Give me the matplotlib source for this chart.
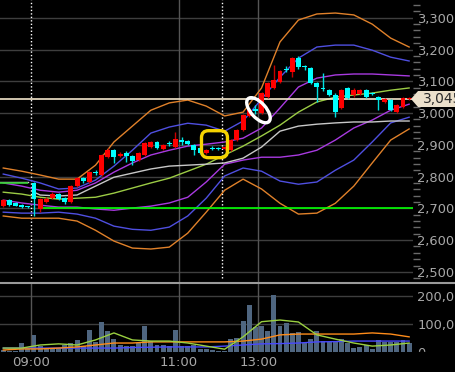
import matplotlib.pyplot as plt
from matplotlib import transforms as mtransforms
from matplotlib.patches import Ellipse, FancyBboxPatch, Polygon, Rectangle
from matplotlib.lines import Line2D
from matplotlib.ticker import MultipleLocator

# 5-minute candles, index 0 = 09:00 (negative = previous day)
idx = list(range(-5, 62))
opens = [2709, 2725, 2718, 2712, 2705, 2781, 2697, 2720, 2734, 2744,
         2734, 2719, 2769, 2795, 2784, 2816, 2806, 2862, 2884, 2866,
         2875, 2866, 2853, 2869, 2894, 2909, 2888, 2906, 2894, 2916,
         2912, 2900, 2890, 2875, 2891, 2890, 2887, 2884, 2916, 2947,
         2990, 3012, 3000, 3050, 3078, 3097, 3140, 3128, 3172, 3147,
         3141, 3094, 3078, 3072, 3056, 3016, 3078, 3056, 3060, 3072,
         3062, 3050, 3035, 3041, 3003, 3019, 3044]
highs = [2730, 2728, 2721, 2715, 2708, 2784, 2734, 2737, 2750, 2747,
         2737, 2772, 2800, 2800, 2819, 2822, 2872, 2890, 2888, 2878,
         2881, 2869, 2878, 2909, 2912, 2912, 2903, 2912, 2941, 2925,
         2916, 2903, 2894, 2887, 2897, 2894, 2897, 2919, 2950, 2997,
         3016, 3025, 3065, 3097, 3150, 3137, 3147, 3175, 3181, 3150,
         3144, 3097, 3125, 3075, 3062, 3075, 3081, 3078, 3075, 3075,
         3066, 3053, 3047, 3044, 3028, 3050, 3050]
lows = [2705, 2706, 2706, 2700, 2701, 2675, 2690, 2716, 2731, 2725,
        2715, 2716, 2766, 2780, 2781, 2806, 2803, 2859, 2844, 2862,
        2847, 2838, 2850, 2866, 2891, 2887, 2884, 2897, 2890, 2900,
        2900, 2869, 2872, 2872, 2884, 2884, 2884, 2881, 2912, 2944,
        2987, 2997, 2997, 3047, 3075, 3094, 3128, 3112, 3140, 3137,
        3090, 3034, 3069, 3053, 2987, 3012, 3044, 3050, 3056, 3047,
        3056, 3009, 3031, 3006, 3000, 3016, 3040]
closes = [2725, 2710, 2709, 2703, 2704, 2728, 2731, 2728, 2744, 2728,
          2719, 2769, 2797, 2787, 2816, 2810, 2869, 2884, 2862, 2872,
          2865, 2850, 2875, 2906, 2909, 2891, 2900, 2903, 2919, 2910,
          2903, 2884, 2875, 2884, 2888, 2887, 2894, 2916, 2947, 2994,
          3010, 3008, 3062, 3094, 3103, 3134, 3137, 3172, 3144, 3144,
          3094, 3081, 3075, 3056, 3003, 3072, 3047, 3072, 3072, 3050,
          3059, 3041, 3044, 3009, 3025, 3047, 3045]
volume_k = [8, 5, 5, 32, 10, 62, 20, 15, 15, 15,
            26, 32, 44, 20, 79, 35, 108, 76, 46, 26,
            20, 20, 32, 94, 40, 26, 24, 20, 77, 20,
            22, 26, 12, 12, 8, 3, 3, 46, 50, 111,
            168, 90, 92, 76, 203, 94, 105, 67, 70, 32,
            46, 76, 40, 35, 40, 46, 32, 14, 17, 26,
            12, 43, 37, 37, 37, 43, 32]

# bollinger bands and moving averages, read every 3 candles
band_idx = list(range(-5, 62, 3))
upper3 = [2827, 2817, 2805, 2792, 2792, 2836, 2909, 2959, 3009, 3032, 3041, 3022,
          2991, 3003, 3079, 3224, 3293, 3312, 3315, 3309, 3280, 3236, 3208]
upper2 = [2808, 2795, 2780, 2761, 2764, 2789, 2833, 2883, 2937, 2956, 2968, 2962,
          2943, 2975, 3044, 3113, 3173, 3208, 3214, 3214, 3198, 3176, 3164]
upper1 = [2780, 2770, 2757, 2751, 2757, 2780, 2814, 2843, 2868, 2883, 2896, 2902,
          2909, 2921, 2953, 3016, 3082, 3110, 3120, 3123, 3123, 3120, 3117]
ma_mid = [2751, 2745, 2735, 2729, 2732, 2735, 2748, 2764, 2780, 2795, 2817, 2839,
          2868, 2896, 2928, 2962, 3003, 3035, 3050, 3057, 3063, 3072, 3079]
lower1 = [2726, 2717, 2710, 2704, 2704, 2698, 2694, 2701, 2707, 2717, 2735, 2783,
          2839, 2852, 2861, 2861, 2868, 2883, 2915, 2953, 2978, 3009, 3028]
lower2 = [2688, 2685, 2685, 2688, 2682, 2669, 2644, 2634, 2631, 2641, 2676, 2732,
          2802, 2827, 2817, 2786, 2776, 2783, 2820, 2852, 2909, 2969, 2987]
lower3 = [2676, 2669, 2669, 2669, 2660, 2631, 2597, 2575, 2572, 2578, 2622, 2688,
          2757, 2792, 2761, 2716, 2682, 2685, 2716, 2770, 2843, 2915, 2950]

vwap_prev_idx = [-6, -1]
vwap_prev = [2783, 2783]
vwap_idx = [0, 1, 4, 7, 10, 13, 16, 19, 22, 25, 28, 31, 34, 37, 40, 43, 46, 49, 52, 55, 58, 61]
vwap = [2751, 2742, 2739, 2742, 2770, 2798, 2811, 2824, 2833, 2836, 2839, 2843,
        2858, 2893, 2943, 2959, 2965, 2969, 2972, 2972, 2975, 2975]

prev_level = 2781
ref_level = 2700
last_price = 3045

vol_ma_short = [14, 14, 25, 29, 25, 43, 68, 43, 39, 39, 32, 21, 10, 54, 108, 114,
                107, 61, 46, 32, 21, 25, 32]
vol_ma_mid = [7, 11, 11, 14, 18, 25, 32, 32, 36, 36, 36, 36, 36, 39, 46, 61,
              64, 64, 64, 64, 68, 64, 54]
vol_ma_long = [14, 14, 14, 14, 14, 14, 14, 16, 17, 18, 18, 18, 21, 25, 29, 30,
               32, 36, 37, 39, 39, 39, 39]

price_ticks = list(range(2500, 3400, 100))
time_pos = [-0.5, 23.5, 36.5]
time_labels = ['09:00', '11:00', '13:00']
session_breaks = [-0.5, 30.5]

W, H = 455, 372
grid_col = '#3e3e3e'
lab_col = '#a8a8a8'

fig = plt.figure(figsize=(W / 100, H / 100), dpi=100, facecolor='black')
axp = fig.add_axes([0, (H - 283) / H, 413 / W, 283 / H], facecolor='black')
axv = fig.add_axes([0, (H - 352) / H, 413 / W, 69 / H], facecolor='black')
for ax in (axp, axv):
    for s in ax.spines.values():
        s.set_visible(False)
    ax.set_xlim(-5.53, 61.63)

# price grid
for t in price_ticks:
    axp.axhline(t, color=grid_col, lw=1, zorder=0)
for t in time_pos[1:]:
    axp.axvline(t, color='#555555', lw=1, zorder=0)
for t in session_breaks:
    axp.axvline(t, ymin=0.018, color='white', lw=1, ls=(0, (1, 1.5)), zorder=0)

# bands
band_styles = [(upper3, '#e0812a'), (lower3, '#e0812a'),
               (upper2, '#4f4fe0'), (lower2, '#4f4fe0'),
               (upper1, '#a83ae0'), (lower1, '#a83ae0'),
               (ma_mid, '#9ccc45')]
for vals, col in band_styles:
    axp.plot(band_idx, vals, color=col, lw=1, zorder=2)
axp.plot(vwap_prev_idx, vwap_prev, color='#c8c8c8', lw=1, zorder=2)
axp.plot(vwap_idx, vwap, color='#c8c8c8', lw=1, zorder=2)
axp.hlines(prev_level, -6, -1, color='#2ecc2e', lw=1.2, zorder=2)
axp.hlines(ref_level, 1.5, 62, color='#00ff00', lw=1.2, zorder=2)
axp.axhline(last_price, color='#f3e6cc', lw=1.2, zorder=2)

# candles
for i, o, h, l, c in zip(idx, opens, highs, lows, closes):
    up = c > o
    body = '#ff0000' if up else '#00ffff'
    wick = '#c80000' if up else '#00e0e0'
    axp.vlines(i, l, h, color=wick, lw=1, zorder=3)
    axp.bar(i, max(abs(c - o), 3), bottom=min(o, c), width=0.8, color=body, zorder=4)

axp.set_ylim(2465, 3356)
axp.set_xticks([])
axp.yaxis.tick_right()
axp.set_yticks(price_ticks)
axp.set_yticklabels([f'{t:,}' for t in price_ticks])
axp.yaxis.set_minor_locator(MultipleLocator(20))
axp.tick_params(axis='y', which='major', length=0, pad=3, labelsize=9.4, labelcolor=lab_col)
axp.tick_params(axis='y', which='minor', length=5, width=1, color='#6a6a6a')

# annotations
ring = Ellipse((0, 0), 31, 15, angle=-48, fill=False, ec='white', lw=2.4,
               transform=mtransforms.IdentityTransform()
               + mtransforms.ScaledTranslation(36.5, 3009, axp.transData),
               zorder=6, clip_on=False)
axp.add_patch(ring)
box = FancyBboxPatch((-13, -13.5), 26, 27, boxstyle='round,pad=0,rounding_size=7',
                     fill=False, ec='#f5d300', lw=2.4,
                     transform=mtransforms.IdentityTransform()
                     + mtransforms.ScaledTranslation(29.35, 2902, axp.transData),
                     zorder=6, clip_on=False)
axp.add_patch(box)

# volume
for v in (100, 200):
    axv.axhline(v, color=grid_col, lw=1, zorder=0)
for t in time_pos:
    axv.axvline(t, color='#555555', lw=1, zorder=0)
axv.bar(idx, volume_k, width=0.8, color='#4f6680', zorder=2)
axv.plot(band_idx, vol_ma_long, color='#4848ff', lw=1, zorder=3)
axv.plot(band_idx, vol_ma_mid, color='#ff8c1a', lw=1, zorder=3)
axv.plot(band_idx, vol_ma_short, color='#9ad040', lw=1, zorder=4)
axv.set_ylim(0, 246)
axv.yaxis.tick_right()
axv.set_yticks([0, 100, 200])
axv.set_yticklabels(['0', '100,000', '200,000'])
axv.tick_params(axis='y', length=0, pad=3, labelsize=9.4, labelcolor=lab_col)
axv.set_xticks(time_pos)
axv.set_xticklabels(time_labels)
axv.tick_params(axis='x', length=0, pad=3, labelsize=9.5, labelcolor=lab_col)

# panel separator, clipped zero label, last price tag
fig.add_artist(Line2D([0, 1], [1 - 283 / H] * 2, color='#9a9a9a', lw=1.5, zorder=5))
fig.add_artist(Rectangle((413 / W, 0), 1, 1 - 352 / H, color='black', zorder=4,
                         transform=fig.transFigure))
tag = Polygon([(411 / W, 1 - 99 / H), (418 / W, 1 - 91 / H), (1, 1 - 91 / H),
               (1, 1 - 107 / H), (418 / W, 1 - 107 / H)],
              closed=True, fc='#ebe0cb', ec='none', transform=fig.transFigure, zorder=5)
fig.add_artist(tag)
fig.text(423 / W, 1 - 99 / H, f'{last_price:,}', ha='left', va='center',
         fontsize=10, color='#2a2a2a', zorder=6)

fig.savefig('out.png', dpi=100, facecolor='black')
